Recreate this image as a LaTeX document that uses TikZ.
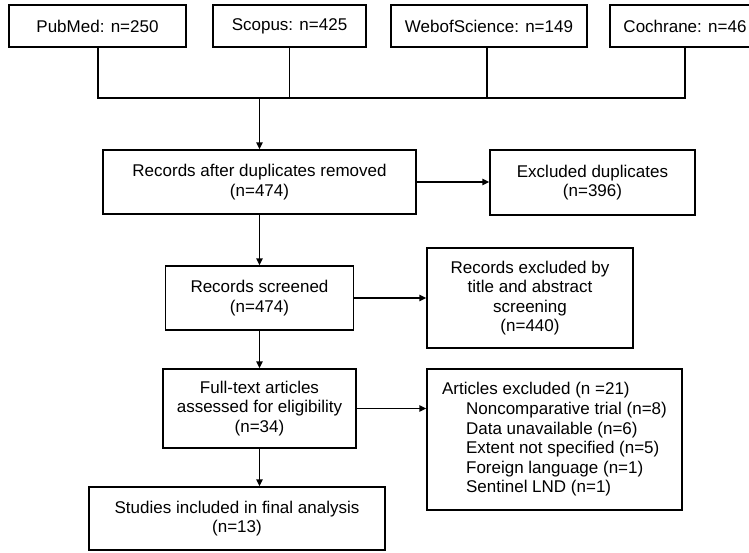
\documentclass[tikz,border=0pt]{standalone}
\usepackage{fontspec}
\setmainfont{Liberation Sans}
\usetikzlibrary{arrows.meta}
\begin{document}
\begin{tikzpicture}[x=1pt,y=-1pt,
  box/.style={draw=black,line width=1.5pt,inner sep=0pt,align=center,
    font=\fontsize{17}{19.6}\selectfont,text=black},
  conn/.style={line width=1.5pt,draw=black},
  arr/.style={conn,-{Triangle[length=7pt,width=6.5pt]}}]
\useasboundingbox (0,0) rectangle (749,552);
\node[box,minimum width=177pt,minimum height=42pt] (pub) at (97.5,26) {PubMed: n=250};
\node[box,minimum width=153pt,minimum height=42pt] (sco) at (289.5,26) {Scopus: n=425};
\node[box,minimum width=196pt,minimum height=42pt] (wos) at (489,26) {WebofScience: n=149};
\node[box,minimum width=150pt,minimum height=42pt] (coc) at (685,26) {Cochrane: n=46};
\node[box,minimum width=313pt,minimum height=64pt] (rec) at (259.5,182) {Records after duplicates removed\\(n=474)};
\node[box,minimum width=205pt,minimum height=65pt] (dup) at (592.5,182.5) {Excluded duplicates\\(n=396)};
\node[box,minimum width=188pt,minimum height=64pt] (scr) at (259.5,298) {Records screened\\(n=474)};
\node[box,minimum width=206pt,minimum height=100pt] (exa) at (530,298) {Records excluded by\\title and abstract\\screening\\(n=440)};
\node[box,minimum width=193pt,minimum height=79pt] (ful) at (259.5,408.5) {Full-text articles\\assessed for eligibility\\(n=34)};
\node[box,minimum width=255pt,minimum height=141pt,align=left] (exb) at (554.5,439.5) {Articles excluded (n =21)\\\hspace*{24pt}Noncomparative trial (n=8)\\\hspace*{24pt}Data unavailable (n=6)\\\hspace*{24pt}Extent not specified (n=5)\\\hspace*{24pt}Foreign language (n=1)\\\hspace*{24pt}Sentinel LND (n=1)};
\node[box,minimum width=296pt,minimum height=63pt] (stu) at (237,518.5) {Studies included in final analysis\\(n=13)};
\coordinate (jl) at (98,98);
\coordinate (jr) at (685,98);
\coordinate (jm) at (259.5,98);
\draw[conn] (pub.south -| jl) -- (jl) -- (jr) -- (coc.south);
\draw[conn] (sco.south) -- (sco.south |- jl);
\draw[conn] (wos.south -| 487,0) -- (487,98);
\draw[arr] (jm) -- (rec.north);
\draw[arr] (rec.east) -- (rec.east -| dup.west);
\draw[arr] (rec.south) -- (scr.north);
\draw[arr] (scr.east) -- (scr.east -| exa.west);
\draw[arr] (scr.south) -- (ful.north);
\draw[arr] (ful.east) -- (ful.east -| exb.west);
\draw[arr] (ful.south) -- (ful.south |- stu.north);
\end{tikzpicture}
\end{document}
